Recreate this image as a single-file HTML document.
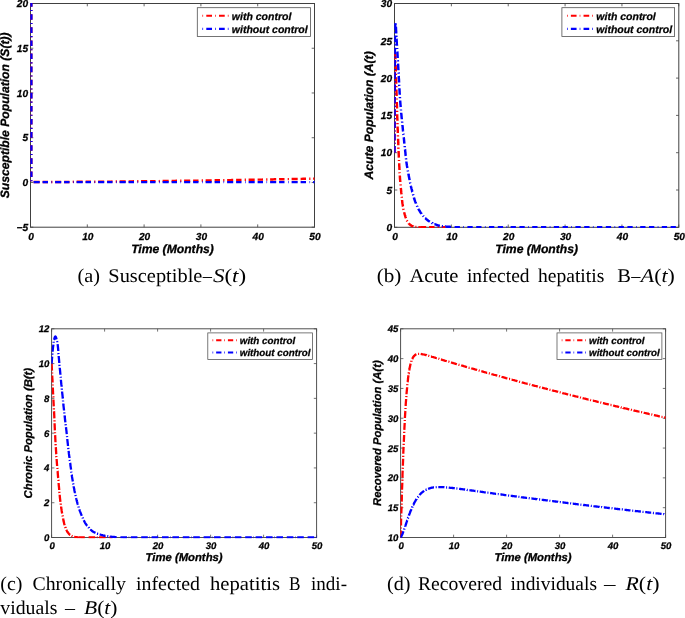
<!DOCTYPE html>
<html><head><meta charset="utf-8"><title>Figure</title>
<style>html,body{margin:0;padding:0;background:#fff}svg{display:block;will-change:transform}text{fill:#000;text-rendering:geometricPrecision}</style></head>
<body><svg width="685" height="618" viewBox="0 0 685 618">
<clipPath id="c34"><rect x="30.25" y="3.0" width="284.75" height="224.89999999999998"/></clipPath>
<rect x="30.5" y="3.5" width="284.0" height="223.7" fill="#fff" stroke="none"/>
<path d="M30.50 227.2 v-2.8 M30.50 3.5 v2.8 M87.30 227.2 v-2.8 M87.30 3.5 v2.8 M144.10 227.2 v-2.8 M144.10 3.5 v2.8 M200.90 227.2 v-2.8 M200.90 3.5 v2.8 M257.70 227.2 v-2.8 M257.70 3.5 v2.8 M314.50 227.2 v-2.8 M314.50 3.5 v2.8 M30.5 227.20 h2.8 M314.5 227.20 h-2.8 M30.5 182.46 h2.8 M314.5 182.46 h-2.8 M30.5 137.72 h2.8 M314.5 137.72 h-2.8 M30.5 92.98 h2.8 M314.5 92.98 h-2.8 M30.5 48.24 h2.8 M314.5 48.24 h-2.8 M30.5 3.50 h2.8 M314.5 3.50 h-2.8" stroke="#404040" stroke-width="0.8" fill="none"/>
<rect x="30.5" y="3.5" width="284.0" height="223.7" fill="none" stroke="#404040" stroke-width="1.0"/>
<path clip-path="url(#c34)" d="M31.3 1.1 L31.3 6.7 M31.3 9.9 L31.3 11.0 M31.3 14.2 L31.3 19.8 M31.3 23.0 L31.3 24.1 M31.3 27.3 L31.3 32.9 M31.3 36.1 L31.3 37.2 M31.3 40.4 L31.3 46.0 M31.3 49.2 L31.3 50.3 M31.3 53.5 L31.3 59.1 M31.3 62.3 L31.3 63.4 M31.3 66.6 L31.3 72.2 M31.3 75.4 L31.3 76.5 M31.3 79.7 L31.3 85.3 M31.3 88.5 L31.3 89.6 M31.3 92.8 L31.3 98.4 M31.3 101.6 L31.3 102.7 M31.3 105.9 L31.3 111.5 M31.3 114.7 L31.3 115.8 M31.3 119.0 L31.3 124.6 M31.3 127.8 L31.3 128.9 M31.3 132.1 L31.3 137.7 M31.3 140.9 L31.3 142.0 M31.3 145.2 L31.3 150.8 M31.3 154.0 L31.3 155.1 M31.3 158.3 L31.3 163.9 M31.3 167.1 L31.3 168.2 M31.3 171.4 L31.3 177.0 M31.3 180.2 L31.3 181.3" fill="none" stroke="#ff0000" stroke-width="2.45" stroke-linejoin="round"/>
<path clip-path="url(#c34)" d="M33.6 182.0 L34.1 182.0 L35.6 182.0 L37.0 182.0 L38.4 182.0 L39.7 182.0 M42.6 182.0 L42.7 182.0 L44.1 182.0 L45.5 182.0 L46.9 182.0 L48.0 182.0 M51.2 182.0 L52.4 182.0 M55.1 181.9 L55.5 181.9 L56.9 181.9 L58.3 181.9 L59.8 181.9 L61.2 181.9 L61.2 181.9 M64.1 181.9 L65.5 181.9 L66.9 181.9 L68.3 181.9 L69.5 181.9 M72.7 181.9 L73.9 181.8 M76.6 181.8 L76.8 181.8 L78.3 181.8 L79.7 181.8 L81.1 181.8 L82.5 181.8 L82.7 181.8 M85.6 181.8 L86.8 181.8 L88.2 181.7 L89.6 181.7 L91.0 181.7 M94.2 181.7 L95.3 181.7 L95.4 181.7 M98.1 181.7 L98.2 181.7 L99.6 181.7 L101.0 181.6 L102.5 181.6 L103.9 181.6 L104.2 181.6 M107.1 181.6 L108.1 181.6 L109.6 181.6 L111.0 181.6 L112.4 181.5 L112.5 181.5 M115.7 181.5 L116.7 181.5 L116.9 181.5 M119.6 181.5 L121.0 181.5 L122.4 181.5 L123.8 181.4 L125.2 181.4 L125.7 181.4 M128.6 181.4 L129.5 181.4 L130.9 181.4 L132.3 181.4 L133.8 181.3 L134.0 181.3 M137.2 181.3 L138.0 181.3 L138.4 181.3 M141.1 181.3 L142.3 181.2 L143.7 181.2 L145.1 181.2 L146.6 181.2 L147.2 181.2 M150.1 181.2 L150.8 181.2 L152.3 181.1 L153.7 181.1 L155.1 181.1 L155.5 181.1 M158.7 181.1 L159.4 181.1 L159.9 181.0 M162.6 181.0 L163.6 181.0 L165.1 181.0 L166.5 181.0 L167.9 180.9 L168.7 180.9 M171.6 180.9 L172.2 180.9 L173.6 180.9 L175.0 180.9 L176.5 180.8 L177.0 180.8 M180.2 180.8 L180.7 180.8 L181.4 180.8 M184.1 180.7 L185.0 180.7 L186.4 180.7 L187.8 180.7 L189.3 180.7 L190.2 180.7 M193.1 180.6 L193.5 180.6 L195.0 180.6 L196.4 180.6 L197.8 180.6 L198.5 180.5 M201.7 180.5 L202.1 180.5 L202.9 180.5 M205.6 180.4 L206.3 180.4 L207.8 180.4 L209.2 180.4 L210.6 180.4 L211.7 180.4 M214.6 180.3 L214.9 180.3 L216.3 180.3 L217.7 180.3 L219.1 180.2 L220.0 180.2 M223.2 180.2 L223.4 180.2 L224.4 180.2 M227.1 180.1 L227.7 180.1 L229.1 180.1 L230.5 180.1 L232.0 180.0 L233.2 180.0 M236.1 180.0 L236.2 180.0 L237.7 180.0 L239.1 179.9 L240.5 179.9 L241.5 179.9 M244.7 179.8 L244.8 179.8 L245.9 179.8 M248.6 179.8 L249.0 179.8 L250.5 179.8 L251.9 179.7 L253.3 179.7 L254.7 179.7 L254.7 179.7 M257.6 179.6 L259.0 179.6 L260.4 179.6 L261.8 179.6 L263.0 179.5 M266.2 179.5 L267.4 179.5 M270.1 179.4 L270.4 179.4 L271.8 179.4 L273.2 179.4 L274.7 179.3 L276.1 179.3 L276.2 179.3 M279.1 179.3 L280.3 179.2 L281.8 179.2 L283.2 179.2 L284.5 179.2 M287.7 179.1 L288.9 179.1 L288.9 179.1 M291.6 179.0 L291.7 179.0 L293.2 179.0 L294.6 179.0 L296.0 179.0 L297.4 178.9 L297.7 178.9 M300.6 178.9 L301.7 178.9 L303.1 178.8 L304.5 178.8 L306.0 178.8 L306.0 178.8 M309.2 178.7 L310.2 178.7 L310.4 178.7 M313.1 178.6 L314.5 178.6" fill="none" stroke="#ff0000" stroke-width="2.45" stroke-linejoin="round"/>
<path clip-path="url(#c34)" d="M31.3 1.1 L31.3 6.7 M31.3 9.9 L31.3 11.0 M31.3 14.2 L31.3 19.8 M31.3 23.0 L31.3 24.1 M31.3 27.3 L31.3 32.9 M31.3 36.1 L31.3 37.2 M31.3 40.4 L31.3 46.0 M31.3 49.2 L31.3 50.3 M31.3 53.5 L31.3 59.1 M31.3 62.3 L31.3 63.4 M31.3 66.6 L31.3 72.2 M31.3 75.4 L31.3 76.5 M31.3 79.7 L31.3 85.3 M31.3 88.5 L31.3 89.6 M31.3 92.8 L31.3 98.4 M31.3 101.6 L31.3 102.7 M31.3 105.9 L31.3 111.5 M31.3 114.7 L31.3 115.8 M31.3 119.0 L31.3 124.6 M31.3 127.8 L31.3 128.9 M31.3 132.1 L31.3 137.7 M31.3 140.9 L31.3 142.0 M31.3 145.2 L31.3 150.8 M31.3 154.0 L31.3 155.1 M31.3 158.3 L31.3 163.9 M31.3 167.1 L31.3 168.2 M31.3 171.4 L31.3 177.0 M31.3 180.2 L31.3 181.3" fill="none" stroke="#0000ff" stroke-width="2.45" stroke-linejoin="round"/>
<path clip-path="url(#c34)" d="M33.6 182.1 L34.1 182.1 L35.6 182.1 L37.0 182.1 L38.4 182.1 L39.7 182.1 M42.6 182.1 L42.7 182.1 L44.1 182.1 L45.5 182.1 L46.9 182.1 L48.0 182.1 M51.5 182.1 L52.1 182.1 M55.1 182.1 L55.5 182.1 L56.9 182.1 L58.3 182.1 L59.8 182.1 L61.2 182.1 L61.2 182.1 M64.1 182.1 L65.5 182.1 L66.9 182.1 L68.3 182.1 L69.5 182.1 M73.0 182.1 L73.6 182.1 M76.6 182.1 L76.8 182.1 L78.3 182.1 L79.7 182.1 L81.1 182.1 L82.5 182.1 L82.7 182.1 M85.6 182.1 L86.8 182.1 L88.2 182.1 L89.6 182.1 L91.0 182.1 M94.5 182.1 L95.1 182.1 M98.1 182.1 L98.2 182.1 L99.6 182.1 L101.0 182.1 L102.5 182.1 L103.9 182.1 L104.2 182.1 M107.1 182.1 L108.1 182.1 L109.6 182.1 L111.0 182.1 L112.4 182.1 L112.5 182.1 M116.0 182.1 L116.6 182.1 M119.6 182.1 L121.0 182.1 L122.4 182.1 L123.8 182.1 L125.2 182.1 L125.7 182.1 M128.6 182.1 L129.5 182.1 L130.9 182.1 L132.3 182.1 L133.8 182.1 L134.0 182.1 M137.5 182.1 L138.0 182.1 L138.1 182.1 M141.1 182.1 L142.3 182.1 L143.7 182.1 L145.1 182.1 L146.6 182.1 L147.2 182.1 M150.1 182.1 L150.8 182.1 L152.3 182.1 L153.7 182.1 L155.1 182.1 L155.5 182.1 M159.0 182.1 L159.4 182.1 L159.6 182.1 M162.6 182.1 L163.6 182.1 L165.1 182.1 L166.5 182.1 L167.9 182.1 L168.7 182.1 M171.6 182.1 L172.2 182.1 L173.6 182.1 L175.0 182.1 L176.5 182.1 L177.0 182.1 M180.5 182.1 L180.7 182.1 L181.1 182.1 M184.1 182.1 L185.0 182.1 L186.4 182.1 L187.8 182.1 L189.3 182.1 L190.2 182.1 M193.1 182.1 L193.5 182.1 L195.0 182.1 L196.4 182.1 L197.8 182.1 L198.5 182.1 M202.0 182.1 L202.1 182.1 L202.6 182.1 M205.6 182.1 L206.3 182.1 L207.8 182.1 L209.2 182.1 L210.6 182.1 L211.7 182.1 M214.6 182.1 L214.9 182.1 L216.3 182.1 L217.7 182.1 L219.1 182.1 L220.0 182.1 M223.5 182.1 L224.1 182.1 M227.1 182.1 L227.7 182.1 L229.1 182.1 L230.5 182.1 L232.0 182.1 L233.2 182.1 M236.1 182.1 L236.2 182.1 L237.7 182.1 L239.1 182.1 L240.5 182.1 L241.5 182.1 M245.0 182.1 L245.6 182.1 M248.6 182.1 L249.0 182.1 L250.5 182.1 L251.9 182.1 L253.3 182.1 L254.7 182.1 L254.7 182.1 M257.6 182.1 L259.0 182.1 L260.4 182.1 L261.8 182.1 L263.0 182.1 M266.5 182.1 L267.1 182.1 M270.1 182.1 L270.4 182.1 L271.8 182.1 L273.2 182.1 L274.7 182.1 L276.1 182.1 L276.2 182.1 M279.1 182.1 L280.3 182.1 L281.8 182.1 L283.2 182.1 L284.5 182.1 M288.0 182.1 L288.6 182.1 M291.6 182.1 L291.7 182.1 L293.2 182.1 L294.6 182.1 L296.0 182.1 L297.4 182.1 L297.7 182.1 M300.6 182.1 L301.7 182.1 L303.1 182.1 L304.5 182.1 L306.0 182.1 L306.0 182.1 M309.5 182.1 L310.1 182.1 M313.1 182.1 L314.5 182.1" fill="none" stroke="#0000ff" stroke-width="2.45" stroke-linejoin="round"/>
<text x="31.00" y="240.00" text-anchor="middle" style="font-family:'Liberation Sans', sans-serif;font-weight:bold;font-style:italic;font-size:10.2px;stroke:#000;stroke-width:0.25px">0</text>
<text x="87.80" y="240.00" text-anchor="middle" style="font-family:'Liberation Sans', sans-serif;font-weight:bold;font-style:italic;font-size:10.2px;stroke:#000;stroke-width:0.25px">10</text>
<text x="144.60" y="240.00" text-anchor="middle" style="font-family:'Liberation Sans', sans-serif;font-weight:bold;font-style:italic;font-size:10.2px;stroke:#000;stroke-width:0.25px">20</text>
<text x="201.40" y="240.00" text-anchor="middle" style="font-family:'Liberation Sans', sans-serif;font-weight:bold;font-style:italic;font-size:10.2px;stroke:#000;stroke-width:0.25px">30</text>
<text x="258.20" y="240.00" text-anchor="middle" style="font-family:'Liberation Sans', sans-serif;font-weight:bold;font-style:italic;font-size:10.2px;stroke:#000;stroke-width:0.25px">40</text>
<text x="315.00" y="240.00" text-anchor="middle" style="font-family:'Liberation Sans', sans-serif;font-weight:bold;font-style:italic;font-size:10.2px;stroke:#000;stroke-width:0.25px">50</text>
<text x="28.20" y="230.92" text-anchor="end" style="font-family:'Liberation Sans', sans-serif;font-weight:bold;font-style:italic;font-size:10.2px;stroke:#000;stroke-width:0.25px">−5</text>
<text x="28.20" y="186.18" text-anchor="end" style="font-family:'Liberation Sans', sans-serif;font-weight:bold;font-style:italic;font-size:10.2px;stroke:#000;stroke-width:0.25px">0</text>
<text x="28.20" y="141.44" text-anchor="end" style="font-family:'Liberation Sans', sans-serif;font-weight:bold;font-style:italic;font-size:10.2px;stroke:#000;stroke-width:0.25px">5</text>
<text x="28.20" y="96.70" text-anchor="end" style="font-family:'Liberation Sans', sans-serif;font-weight:bold;font-style:italic;font-size:10.2px;stroke:#000;stroke-width:0.25px">10</text>
<text x="28.20" y="51.96" text-anchor="end" style="font-family:'Liberation Sans', sans-serif;font-weight:bold;font-style:italic;font-size:10.2px;stroke:#000;stroke-width:0.25px">15</text>
<text x="28.20" y="7.22" text-anchor="end" style="font-family:'Liberation Sans', sans-serif;font-weight:bold;font-style:italic;font-size:10.2px;stroke:#000;stroke-width:0.25px">20</text>
<text x="172.50" y="252.8" text-anchor="middle" style="font-family:'Liberation Sans', sans-serif;font-weight:bold;font-style:italic;font-size:12.15px;stroke:#000;stroke-width:0.3px">Time (Months)</text>
<text transform="translate(9.3 115.35) rotate(-90)" text-anchor="middle" style="font-family:'Liberation Sans', sans-serif;font-weight:bold;font-style:italic;font-size:12.15px;stroke:#000;stroke-width:0.3px">Susceptible Population (S(t))</text>
<rect x="197.3" y="7.7" width="113.09999999999997" height="28.7" fill="#fff" stroke="#505050" stroke-width="0.8"/>
<path d="M202.40 15.71 H229.33" stroke="#ff0000" stroke-width="2.10" stroke-dasharray="0.70 3.20 5.71 3.10" fill="none"/>
<text x="231.83" y="19.54" style="font-family:'Liberation Sans', sans-serif;font-weight:bold;font-style:italic;font-size:10.5px;stroke:#000;stroke-width:0.25px">with control</text>
<path d="M202.40 28.92 H229.33" stroke="#0000ff" stroke-width="2.10" stroke-dasharray="0.70 3.20 5.71 3.10" fill="none"/>
<text x="231.83" y="32.75" style="font-family:'Liberation Sans', sans-serif;font-weight:bold;font-style:italic;font-size:10.5px;stroke:#000;stroke-width:0.25px">without control</text>
<clipPath id="c398"><rect x="394.25" y="3.0" width="285.04999999999995" height="225.0"/></clipPath>
<rect x="394.5" y="3.5" width="284.29999999999995" height="223.8" fill="#fff" stroke="none"/>
<path d="M394.50 227.3 v-2.8 M394.50 3.5 v2.8 M451.36 227.3 v-2.8 M451.36 3.5 v2.8 M508.22 227.3 v-2.8 M508.22 3.5 v2.8 M565.08 227.3 v-2.8 M565.08 3.5 v2.8 M621.94 227.3 v-2.8 M621.94 3.5 v2.8 M678.80 227.3 v-2.8 M678.80 3.5 v2.8 M394.5 227.30 h2.8 M678.8 227.30 h-2.8 M394.5 190.00 h2.8 M678.8 190.00 h-2.8 M394.5 152.70 h2.8 M678.8 152.70 h-2.8 M394.5 115.40 h2.8 M678.8 115.40 h-2.8 M394.5 78.10 h2.8 M678.8 78.10 h-2.8 M394.5 40.80 h2.8 M678.8 40.80 h-2.8 M394.5 3.50 h2.8 M678.8 3.50 h-2.8" stroke="#404040" stroke-width="0.8" fill="none"/>
<rect x="394.5" y="3.5" width="284.29999999999995" height="223.8" fill="none" stroke="#404040" stroke-width="1.0"/>
<path clip-path="url(#c398)" d="M394.5 152.7 L394.5 146.1 M394.5 143.8 L394.5 142.7 M394.5 140.4 L394.5 133.8 M394.6 131.5 L394.6 130.4 M394.6 128.1 L394.6 121.5 M394.6 119.2 L394.6 118.1 M394.6 115.8 L394.6 109.2 M394.6 106.9 L394.6 105.8 M394.6 103.5 L394.7 96.9 M394.7 94.6 L394.7 93.5 M394.7 91.2 L394.7 84.6 M394.7 82.3 L394.7 81.2 M394.7 78.9 L394.8 72.3 M394.8 70.0 L394.8 68.9 M394.8 66.6 L394.8 62.9 L394.9 60.0 M394.9 57.7 L395.0 56.6 M395.0 54.3 L395.1 53.8 L395.1 53.5 L395.2 53.9 L395.2 54.8 L395.3 56.0 L395.4 57.4 L395.4 58.8 L395.4 59.2 M395.5 61.5 L395.5 61.9 L395.6 62.7 M395.6 65.0 L395.6 65.6 L395.7 67.5 L395.8 69.3 L395.8 71.2 L395.8 71.5 M395.9 73.8 L395.9 74.8 L395.9 75.0 M396.0 77.3 L396.0 78.6 L396.1 80.4 L396.2 82.3 L396.2 83.8 M396.3 86.1 L396.3 87.3 M396.4 89.6 L396.4 90.9 L396.5 92.5 L396.6 94.2 L396.6 95.9 L396.6 96.1 M396.7 98.4 L396.7 99.3 L396.7 99.6 M396.8 101.9 L396.8 103.1 L396.9 105.1 L397.0 107.1 L397.0 108.4 M397.1 110.7 L397.1 111.0 L397.1 111.9 M397.2 114.2 L397.2 114.8 L397.2 116.6 L397.3 118.3 L397.4 119.9 L397.4 120.7 M397.5 123.0 L397.5 123.2 L397.5 124.2 M397.6 126.5 L397.6 127.9 L397.7 129.4 L397.8 130.9 L397.8 132.4 L397.8 133.0 M397.9 135.3 L397.9 135.4 L398.0 136.5 M398.1 138.8 L398.1 139.6 L398.2 141.0 L398.2 142.4 L398.3 143.8 L398.3 145.2 L398.3 145.3 M398.4 147.6 L398.4 147.9 L398.5 148.8 M398.6 151.0 L398.6 151.8 L398.7 153.1 L398.7 154.4 L398.8 155.6 L398.8 156.9 L398.9 157.6 M399.0 159.9 L399.0 160.5 L399.0 161.0 M399.2 163.3 L399.2 164.0 L399.2 165.2 L399.3 166.3 L399.4 167.5 L399.4 168.6 L399.5 169.7 L399.5 169.9 M399.6 172.2 L399.6 172.9 L399.7 173.3 M399.8 175.6 L399.8 175.7 L399.9 176.6 L399.9 177.4 L400.0 178.2 L400.0 179.0 L400.1 179.7 L400.2 180.4 L400.2 181.1 L400.3 181.8 L400.3 182.1 M400.5 184.4 L400.6 185.1 L400.6 185.6 M400.8 187.9 L400.8 188.0 L400.9 188.6 L401.0 189.2 L401.0 189.8 L401.1 190.3 L401.1 190.9 L401.2 191.5 L401.2 192.1 L401.3 192.7 L401.4 193.2 L401.4 193.8 L401.5 194.4 M401.7 196.7 L401.7 196.7 L401.8 197.2 L401.8 197.8 L401.8 197.8 M402.1 200.1 L402.1 200.4 L402.2 201.4 L402.3 202.3 L402.4 203.2 L402.6 204.1 L402.7 204.8 L402.8 205.5 L402.9 206.2 L403.0 206.6 M403.4 208.8 L403.4 209.0 L403.5 209.3 L403.5 209.6 L403.6 209.9 L403.6 209.9 M404.1 212.2 L404.1 212.2 L404.4 213.3 L404.7 214.4 L405.0 215.3 L405.2 216.2 L405.5 217.1 L405.8 217.9 L406.0 218.3 M406.8 220.4 L406.8 220.4 L407.0 220.8 L407.2 221.2 L407.3 221.4 M408.6 223.2 L408.7 223.4 L409.5 224.2 L410.2 224.8 L411.0 225.4 L411.8 225.8 L412.5 226.1 L413.3 226.4 L413.4 226.5 M415.4 226.9 L415.6 226.9 L415.8 226.9 L416.0 227.0 L416.1 227.0 L416.3 227.0 L416.4 227.0 M418.4 227.2 L418.4 227.2 L418.6 227.2 L418.8 227.2 L419.0 227.2 L419.2 227.2 L419.4 227.2 L419.6 227.2 L419.8 227.2 L419.9 227.2" fill="none" stroke="#ff0000" stroke-width="2.45" stroke-linejoin="round"/>
<path clip-path="url(#c398)" d="M420.1 227.2 L420.3 227.2 L421.3 227.2 L422.2 227.2 L423.2 227.2 L424.1 227.2 L425.1 227.2 L426.0 227.2 L426.2 227.2 M429.1 227.2 L429.3 227.2 L430.0 227.2 L430.8 227.2 L431.5 227.2 L432.3 227.2 L433.1 227.2 L433.8 227.2 L434.5 227.2 M437.7 227.2 L437.8 227.2 L438.0 227.2 L438.2 227.2 L438.4 227.2 L438.6 227.2 L438.8 227.2 L438.9 227.2 M441.6 227.2 L441.8 227.2 L442.4 227.2 L443.0 227.2 L443.5 227.2 L444.1 227.2 L444.7 227.2 L445.2 227.2 L445.6 227.2" fill="none" stroke="#ff0000" stroke-width="2.45" stroke-linejoin="round"/>
<path clip-path="url(#c398)" d="M394.5 152.7 L394.5 146.1 M394.5 143.8 L394.5 142.7 M394.5 140.4 L394.5 133.8 M394.5 131.5 L394.5 130.4 M394.6 128.1 L394.6 125.9 L394.6 121.5 M394.6 119.2 L394.6 118.1 M394.6 115.8 L394.6 109.2 M394.6 106.9 L394.6 105.8 M394.6 103.5 L394.6 102.6 L394.6 96.9 M394.6 94.6 L394.6 93.5 M394.7 91.2 L394.7 85.4 L394.7 84.6 M394.7 82.3 L394.7 81.2 M394.7 78.9 L394.7 72.9 L394.7 72.3 M394.7 70.0 L394.7 68.9 M394.8 66.6 L394.8 62.0 L394.8 60.0 M394.8 57.7 L394.8 56.6 M394.8 54.3 L394.8 53.0 L394.9 47.7 M394.9 45.4 L394.9 44.3 M394.9 42.0 L395.0 40.6 L395.0 36.5 L395.0 35.4 M395.1 33.1 L395.1 32.6 L395.1 32.0 M395.1 29.7 L395.1 29.1 L395.2 26.2 L395.2 24.0 L395.3 23.1 M395.6 23.4 L395.6 23.5 L395.7 24.0 L395.8 24.4 L395.8 24.6 M395.9 26.9 L396.0 28.0 L396.0 29.2 L396.1 30.5 L396.2 31.8 L396.2 33.1 L396.2 33.4 M396.3 35.7 L396.4 36.5 L396.4 36.9 M396.5 39.2 L396.6 39.3 L396.6 40.2 L396.7 41.1 L396.7 42.0 L396.8 42.9 L396.8 43.7 L396.9 44.6 L397.0 45.5 L397.0 45.7 M397.1 48.0 L397.1 48.1 L397.2 49.0 L397.2 49.1 M397.3 51.4 L397.4 51.9 L397.4 52.8 L397.5 53.8 L397.5 54.8 L397.6 55.7 L397.6 56.7 L397.7 57.7 L397.7 58.0 M397.8 60.3 L397.9 60.7 L397.9 61.4 M398.0 63.7 L398.1 64.7 L398.2 65.7 L398.2 66.7 L398.3 67.7 L398.3 68.7 L398.4 69.7 L398.4 70.2 M398.5 72.5 L398.6 72.7 L398.6 73.7 M398.7 76.0 L398.8 76.8 L398.8 77.8 L398.9 78.9 L399.0 79.9 L399.0 81.0 L399.1 82.0 L399.1 82.5 M399.2 84.8 L399.2 85.3 L399.3 86.0 M399.4 88.3 L399.4 88.4 L399.5 89.5 L399.5 90.5 L399.6 91.5 L399.6 92.5 L399.7 93.5 L399.8 94.5 L399.8 94.8 M399.9 97.1 L399.9 97.2 L400.0 98.1 L400.0 98.2 M400.2 100.5 L400.2 101.3 L400.3 102.0 L400.3 102.8 L400.4 103.5 L400.4 104.2 L400.5 104.9 L400.6 105.6 L400.6 106.3 L400.7 107.0 L400.7 107.1 M400.9 109.4 L400.9 109.6 L401.0 110.2 L401.0 110.5 M401.2 112.8 L401.2 113.3 L401.3 113.9 L401.4 114.5 L401.4 115.1 L401.5 115.7 L401.5 116.3 L401.6 116.8 L401.6 117.4 L401.7 118.0 L401.8 118.6 L401.8 119.1 L401.8 119.3 M402.1 121.6 L402.1 121.9 L402.2 122.5 L402.2 122.7 M402.4 125.0 L402.4 125.3 L402.6 126.4 L402.7 127.6 L402.8 128.7 L402.9 129.8 L403.0 130.9 L403.1 131.5 M403.3 133.8 L403.4 134.0 L403.4 134.6 L403.5 134.9 M403.7 137.2 L403.8 137.7 L403.9 138.7 L404.0 139.7 L404.1 140.7 L404.2 141.8 L404.3 142.8 L404.4 143.7 M404.7 146.0 L404.7 146.4 L404.8 147.0 L404.8 147.2 M405.0 149.4 L405.1 149.6 L405.1 150.2 L405.2 150.8 L405.2 151.4 L405.3 151.9 L405.4 152.5 L405.4 153.1 L405.5 153.7 L405.5 154.3 L405.6 154.8 L405.6 155.4 L405.7 155.9 M405.9 158.2 L406.1 159.3 L406.1 159.4 M406.4 161.6 L406.4 162.1 L406.6 163.4 L406.8 164.7 L407.0 166.0 L407.2 167.1 L407.4 168.1 M407.8 170.4 L407.8 170.5 L408.0 171.5 M408.4 173.7 L408.5 174.6 L408.7 175.6 L408.9 176.6 L409.1 177.6 L409.3 178.5 L409.5 179.5 L409.6 180.1 M410.1 182.4 L410.2 183.2 L410.3 183.5 M410.8 185.7 L410.8 185.7 L411.0 186.6 L411.2 187.4 L411.4 188.2 L411.6 189.0 L411.8 189.7 L412.0 190.4 L412.1 191.2 L412.3 191.9 L412.4 192.0 M413.0 194.2 L413.1 194.7 L413.3 195.3 M413.9 197.5 L414.0 198.0 L414.2 198.6 L414.4 199.3 L414.6 199.8 L414.8 200.4 L415.0 201.0 L415.2 201.5 L415.4 202.1 L415.6 202.6 L415.8 203.0 L416.0 203.5 L416.0 203.6 M416.9 205.7 L416.9 205.7 L417.1 206.2 L417.3 206.6 L417.3 206.7 M418.3 208.7 L418.4 208.9 L418.8 209.6 L419.2 210.2 L419.6 210.9 L419.9 211.5 L420.3 212.1 L420.7 212.7 L421.1 213.2 L421.5 213.8 L421.6 214.0 M423.0 215.7 L423.0 215.7 L423.2 216.0 L423.4 216.2 L423.6 216.4 L423.7 216.5 M425.1 218.1 L425.3 218.2 L426.0 218.9 L426.8 219.6 L427.6 220.2 L428.3 220.8 L429.1 221.3 L429.8 221.8 M431.6 222.8 L431.7 222.9 L431.9 223.0 L432.1 223.1 L432.3 223.1 L432.5 223.2 L432.5 223.3 M434.4 224.1 L434.6 224.1 L435.3 224.4 L436.1 224.7 L436.9 225.0 L437.6 225.2 L438.4 225.4 L439.2 225.6 L439.9 225.7 M441.9 226.1 L442.0 226.1 L442.2 226.1 L442.4 226.1 L442.6 226.2 L442.8 226.2 L442.9 226.2 M444.9 226.5 L445.0 226.5 L445.2 226.5 L445.4 226.5 L445.6 226.6" fill="none" stroke="#0000ff" stroke-width="2.45" stroke-linejoin="round"/>
<path clip-path="url(#c398)" d="M445.8 226.6 L446.0 226.6 L446.8 226.7 L447.5 226.7 L448.3 226.8 L449.0 226.8 L449.8 226.8 L450.6 226.9 L451.1 226.9 M454.6 227.1 L454.7 227.1 L455.5 227.1 L456.3 227.1 L457.0 227.1 L457.8 227.2 L458.5 227.2 L459.3 227.2 L459.9 227.2 M463.3 227.2 L463.8 227.2 L464.0 227.2 M467.4 227.2 L468.2 227.2 L469.2 227.2 L470.3 227.2 L471.4 227.2 L472.5 227.2 L472.7 227.2 M476.2 227.2 L476.8 227.2 L477.9 227.2 L479.0 227.2 L480.1 227.2 L481.2 227.2 L481.5 227.2 M484.9 227.2 L485.5 227.2 L485.6 227.2 M489.0 227.2 L489.9 227.2 L491.0 227.2 L492.0 227.3 L493.1 227.3 L494.2 227.3 L494.3 227.3 M497.8 227.3 L498.6 227.3 L499.6 227.3 L500.7 227.3 L501.8 227.3 L502.9 227.3 L503.1 227.3 M506.5 227.3 L507.2 227.3 M510.6 227.3 L511.6 227.3 L512.7 227.3 L513.8 227.3 L514.8 227.3 L515.9 227.3 M519.4 227.3 L520.3 227.3 L521.4 227.3 L522.4 227.3 L523.5 227.3 L524.6 227.3 L524.7 227.3 M528.1 227.3 L528.8 227.3 M532.2 227.3 L532.2 227.3 L533.3 227.3 L534.4 227.3 L535.5 227.3 L536.6 227.3 L537.5 227.3 M541.0 227.3 L542.0 227.3 L543.1 227.3 L544.2 227.3 L545.3 227.3 L546.3 227.3 M549.7 227.3 L550.4 227.3 M553.8 227.3 L553.9 227.3 L555.0 227.3 L556.1 227.3 L557.2 227.3 L558.3 227.3 L559.1 227.3 M562.6 227.3 L562.6 227.3 L563.7 227.3 L564.8 227.3 L565.9 227.3 L567.0 227.3 L567.9 227.3 M571.3 227.3 L571.3 227.3 L572.0 227.3 M575.4 227.3 L575.7 227.3 L576.7 227.3 L577.8 227.3 L578.9 227.3 L580.0 227.3 L580.7 227.3 M584.2 227.3 L584.3 227.3 L585.4 227.3 L586.5 227.3 L587.6 227.3 L588.7 227.3 L589.5 227.3 M592.9 227.3 L593.0 227.3 L593.6 227.3 M597.0 227.3 L597.4 227.3 L598.5 227.3 L599.5 227.3 L600.6 227.3 L601.7 227.3 L602.3 227.3 M605.8 227.3 L606.1 227.3 L607.1 227.3 L608.2 227.3 L609.3 227.3 L610.4 227.3 L611.1 227.3 M614.5 227.3 L614.7 227.3 L615.2 227.3 M618.6 227.3 L619.1 227.3 L620.2 227.3 L621.3 227.3 L622.3 227.3 L623.4 227.3 L623.9 227.3 M627.4 227.3 L627.8 227.3 L628.9 227.3 L629.9 227.3 L631.0 227.3 L632.1 227.3 L632.7 227.3 M636.1 227.3 L636.5 227.3 L636.8 227.3 M640.2 227.3 L640.8 227.3 L641.9 227.3 L643.0 227.3 L644.1 227.3 L645.1 227.3 L645.5 227.3 M649.0 227.3 L649.5 227.3 L650.6 227.3 L651.7 227.3 L652.7 227.3 L653.8 227.3 L654.3 227.3 M657.7 227.3 L658.2 227.3 L658.4 227.3 M661.8 227.3 L662.5 227.3 L663.6 227.3 L664.7 227.3 L665.8 227.3 L666.9 227.3 L667.1 227.3 M670.6 227.3 L671.2 227.3 L672.3 227.3 L673.4 227.3 L674.5 227.3 L675.5 227.3 L675.9 227.3" fill="none" stroke="#0000ff" stroke-width="2.45" stroke-linejoin="round"/>
<text x="395.00" y="240.10" text-anchor="middle" style="font-family:'Liberation Sans', sans-serif;font-weight:bold;font-style:italic;font-size:10.2px;stroke:#000;stroke-width:0.25px">0</text>
<text x="451.86" y="240.10" text-anchor="middle" style="font-family:'Liberation Sans', sans-serif;font-weight:bold;font-style:italic;font-size:10.2px;stroke:#000;stroke-width:0.25px">10</text>
<text x="508.72" y="240.10" text-anchor="middle" style="font-family:'Liberation Sans', sans-serif;font-weight:bold;font-style:italic;font-size:10.2px;stroke:#000;stroke-width:0.25px">20</text>
<text x="565.58" y="240.10" text-anchor="middle" style="font-family:'Liberation Sans', sans-serif;font-weight:bold;font-style:italic;font-size:10.2px;stroke:#000;stroke-width:0.25px">30</text>
<text x="622.44" y="240.10" text-anchor="middle" style="font-family:'Liberation Sans', sans-serif;font-weight:bold;font-style:italic;font-size:10.2px;stroke:#000;stroke-width:0.25px">40</text>
<text x="679.30" y="240.10" text-anchor="middle" style="font-family:'Liberation Sans', sans-serif;font-weight:bold;font-style:italic;font-size:10.2px;stroke:#000;stroke-width:0.25px">50</text>
<text x="392.20" y="231.02" text-anchor="end" style="font-family:'Liberation Sans', sans-serif;font-weight:bold;font-style:italic;font-size:10.2px;stroke:#000;stroke-width:0.25px">0</text>
<text x="392.20" y="193.72" text-anchor="end" style="font-family:'Liberation Sans', sans-serif;font-weight:bold;font-style:italic;font-size:10.2px;stroke:#000;stroke-width:0.25px">5</text>
<text x="392.20" y="156.42" text-anchor="end" style="font-family:'Liberation Sans', sans-serif;font-weight:bold;font-style:italic;font-size:10.2px;stroke:#000;stroke-width:0.25px">10</text>
<text x="392.20" y="119.12" text-anchor="end" style="font-family:'Liberation Sans', sans-serif;font-weight:bold;font-style:italic;font-size:10.2px;stroke:#000;stroke-width:0.25px">15</text>
<text x="392.20" y="81.82" text-anchor="end" style="font-family:'Liberation Sans', sans-serif;font-weight:bold;font-style:italic;font-size:10.2px;stroke:#000;stroke-width:0.25px">20</text>
<text x="392.20" y="44.52" text-anchor="end" style="font-family:'Liberation Sans', sans-serif;font-weight:bold;font-style:italic;font-size:10.2px;stroke:#000;stroke-width:0.25px">25</text>
<text x="392.20" y="7.22" text-anchor="end" style="font-family:'Liberation Sans', sans-serif;font-weight:bold;font-style:italic;font-size:10.2px;stroke:#000;stroke-width:0.25px">30</text>
<text x="536.65" y="252.8" text-anchor="middle" style="font-family:'Liberation Sans', sans-serif;font-weight:bold;font-style:italic;font-size:12.15px;stroke:#000;stroke-width:0.3px">Time (Months)</text>
<text transform="translate(373.0 115.40) rotate(-90)" text-anchor="middle" style="font-family:'Liberation Sans', sans-serif;font-weight:bold;font-style:italic;font-size:12.15px;stroke:#000;stroke-width:0.3px">Acute Population (A(t)</text>
<rect x="561.9" y="7.7" width="112.70000000000005" height="28.7" fill="#fff" stroke="#505050" stroke-width="0.8"/>
<path d="M566.99 15.68 H593.82" stroke="#ff0000" stroke-width="2.09" stroke-dasharray="0.70 3.19 5.68 3.09" fill="none"/>
<text x="596.31" y="19.51" style="font-family:'Liberation Sans', sans-serif;font-weight:bold;font-style:italic;font-size:10.5px;stroke:#000;stroke-width:0.25px">with control</text>
<path d="M566.99 28.84 H593.82" stroke="#0000ff" stroke-width="2.09" stroke-dasharray="0.70 3.19 5.68 3.09" fill="none"/>
<text x="596.31" y="32.68" style="font-family:'Liberation Sans', sans-serif;font-weight:bold;font-style:italic;font-size:10.5px;stroke:#000;stroke-width:0.25px">without control</text>
<clipPath id="c380"><rect x="51.35" y="328.3" width="265.75" height="209.89999999999998"/></clipPath>
<rect x="51.6" y="328.8" width="265.0" height="208.7" fill="#fff" stroke="none"/>
<path d="M51.60 537.5 v-2.8 M51.60 328.8 v2.8 M104.60 537.5 v-2.8 M104.60 328.8 v2.8 M157.60 537.5 v-2.8 M157.60 328.8 v2.8 M210.60 537.5 v-2.8 M210.60 328.8 v2.8 M263.60 537.5 v-2.8 M263.60 328.8 v2.8 M316.60 537.5 v-2.8 M316.60 328.8 v2.8 M51.6 537.50 h2.8 M316.6 537.50 h-2.8 M51.6 502.72 h2.8 M316.6 502.72 h-2.8 M51.6 467.93 h2.8 M316.6 467.93 h-2.8 M51.6 433.15 h2.8 M316.6 433.15 h-2.8 M51.6 398.37 h2.8 M316.6 398.37 h-2.8 M51.6 363.58 h2.8 M316.6 363.58 h-2.8 M51.6 328.80 h2.8 M316.6 328.80 h-2.8" stroke="#484848" stroke-width="0.76" fill="none"/>
<rect x="51.6" y="328.8" width="265.0" height="208.7" fill="none" stroke="#484848" stroke-width="0.95"/>
<path clip-path="url(#c380)" d="M51.6 363.6 L51.7 364.6 L51.7 365.5 L51.8 366.5 L51.8 367.5 L51.9 368.5 L51.9 369.6 L52.0 370.6 L52.0 370.6 M52.1 372.5 L52.1 372.6 L52.1 373.6 M52.2 375.5 L52.2 375.8 L52.3 376.8 L52.3 377.9 L52.4 378.9 L52.5 380.0 L52.5 381.1 L52.6 382.2 L52.6 382.5 M52.7 384.4 L52.7 385.5 L52.7 385.6 M52.8 387.5 L52.8 387.8 L52.9 389.0 L52.9 390.1 L53.0 391.2 L53.0 392.4 L53.1 393.5 L53.1 394.5 M53.2 396.4 L53.3 396.8 L53.3 397.5 M53.4 399.4 L53.4 399.9 L53.5 400.9 L53.5 401.9 L53.6 402.9 L53.6 403.9 L53.7 404.9 L53.7 405.8 L53.8 406.4 M53.9 408.3 L53.9 408.8 L53.9 409.4 M54.0 411.3 L54.1 411.8 L54.1 412.8 L54.2 413.9 L54.2 414.9 L54.3 416.0 L54.3 417.2 L54.4 418.3 L54.4 418.3 M54.5 420.2 L54.5 420.7 L54.5 421.4 M54.6 423.3 L54.6 424.5 L54.7 425.7 L54.7 426.9 L54.8 428.2 L54.8 429.4 L54.9 430.3 M55.0 432.2 L55.0 432.8 L55.0 433.3 M55.1 435.2 L55.2 435.9 L55.2 436.9 L55.3 437.9 L55.3 438.9 L55.4 439.8 L55.4 440.8 L55.5 441.7 L55.5 442.2 M55.6 444.1 L55.6 444.5 L55.7 445.3 M55.8 447.2 L55.9 448.0 L55.9 448.8 L56.0 449.7 L56.0 450.5 L56.1 451.3 L56.1 452.2 L56.2 453.0 L56.2 453.8 L56.3 454.2 M56.4 456.0 L56.4 456.1 L56.4 456.9 L56.5 457.2 M56.6 459.1 L56.6 459.2 L56.7 459.9 L56.7 460.6 L56.8 461.3 L56.8 462.0 L56.9 462.7 L56.9 463.4 L57.0 464.1 L57.0 464.8 L57.1 465.4 L57.1 466.1 M57.3 468.0 L57.3 468.0 L57.4 468.7 L57.4 469.1 M57.5 471.0 L57.6 471.2 L57.7 472.4 L57.8 473.7 L57.9 474.9 L58.0 476.1 L58.1 477.3 L58.2 478.0 M58.3 479.9 L58.4 480.3 L58.4 480.9 L58.4 481.0 M58.6 482.9 L58.6 483.4 L58.7 484.0 L58.7 484.6 L58.8 485.2 L58.8 485.8 L58.9 486.4 L59.0 487.0 L59.0 487.6 L59.1 488.2 L59.1 488.9 L59.2 489.5 L59.2 489.9 M59.4 491.8 L59.4 491.8 L59.4 492.4 L59.5 492.9 M59.7 494.8 L59.7 495.2 L59.8 496.3 L59.9 497.3 L60.0 498.3 L60.1 499.2 L60.2 500.1 L60.3 501.0 L60.4 501.8 M60.7 503.6 L60.7 503.9 L60.8 504.3 L60.8 504.7 L60.8 504.8 M61.1 506.6 L61.1 506.7 L61.2 507.8 L61.4 508.9 L61.6 509.9 L61.7 510.9 L61.9 511.9 L62.0 512.9 L62.2 513.5 M62.5 515.4 L62.6 515.7 L62.7 516.5 M63.1 518.4 L63.1 518.6 L63.3 519.4 L63.4 520.3 L63.6 521.1 L63.8 521.9 L64.0 522.7 L64.1 523.4 L64.3 524.1 L64.5 524.7 L64.6 525.2 M65.2 526.9 L65.2 526.9 L65.4 527.5 L65.6 527.9 L65.6 528.0 M66.3 529.7 L66.3 529.7 L66.8 530.8 L67.3 531.7 L67.9 532.5 L68.4 533.2 L68.9 533.9 L69.5 534.4 L70.0 534.9 L70.2 535.0 M71.6 535.9 L71.8 536.0 L71.9 536.1 L72.1 536.2 L72.3 536.3 L72.5 536.4 L72.5 536.4 M74.1 536.9 L74.3 537.0 L74.8 537.0 L75.3 537.1 L75.8 537.1 L76.4 537.2 L76.9 537.2 L77.4 537.3 L78.0 537.3" fill="none" stroke="#ff0000" stroke-width="2.3" stroke-linejoin="round"/>
<path clip-path="url(#c380)" d="M78.2 537.3 L78.3 537.3 L79.4 537.4 L80.5 537.4 L81.5 537.5 L82.6 537.5 L83.6 537.5 L84.7 537.5 L84.8 537.5 M88.6 537.5 L88.6 537.5 L89.7 537.5 L90.7 537.5 L91.8 537.5 L92.9 537.5 L93.9 537.5 L95.0 537.5 L95.2 537.5 M96.8 537.5 L96.8 537.5 L96.9 537.5 L97.1 537.5 L97.3 537.5 L97.5 537.5 L97.6 537.5 M99.0 537.5 L99.1 537.5 L100.1 537.5 L101.2 537.5 L102.3 537.5 L103.3 537.5 L104.4 537.5 L105.5 537.5 L105.6 537.5 M109.4 537.5 L109.4 537.5 L109.9 537.5 L110.4 537.5 L110.9 537.5 L111.5 537.5 L112.0 537.5 L112.5 537.5" fill="none" stroke="#ff0000" stroke-width="2.3" stroke-linejoin="round"/>
<path clip-path="url(#c380)" d="M51.6 363.6 L51.7 362.9 L51.7 362.2 L51.8 361.5 L51.8 360.8 L51.9 360.1 L51.9 359.4 L52.0 358.8 L52.0 358.1 L52.1 357.5 L52.1 356.8 L52.2 356.6 M52.3 354.7 L52.3 354.4 L52.4 353.8 L52.4 353.6 M52.6 351.7 L52.6 351.5 L52.7 350.4 L52.8 349.4 L52.9 348.4 L53.0 347.5 L53.1 346.5 L53.3 345.6 L53.4 344.7 M53.6 342.8 L53.6 342.5 L53.7 342.1 L53.7 341.7 L53.7 341.7 M54.0 339.8 L54.1 339.7 L54.5 338.1 L54.9 337.0 L55.3 336.5 L55.8 336.9 L56.2 338.0 L56.6 339.3 M57.0 341.1 L57.0 341.1 L57.1 341.4 L57.1 341.6 L57.2 341.9 L57.2 342.2 M57.6 344.1 L57.6 344.1 L57.7 344.8 L57.8 345.6 L57.9 346.6 L58.0 347.6 L58.1 348.7 L58.2 349.8 L58.3 351.0 M58.5 352.9 L58.5 353.0 L58.5 353.7 L58.6 354.1 M58.7 355.9 L58.7 356.4 L58.8 357.1 L58.8 357.7 L58.9 358.4 L59.0 359.1 L59.0 359.7 L59.1 360.4 L59.1 361.0 L59.2 361.6 L59.2 362.2 L59.3 362.8 L59.3 362.9 M59.5 364.8 L59.5 365.1 L59.5 365.7 L59.6 366.0 M59.7 367.8 L59.7 367.9 L59.9 369.0 L60.0 370.1 L60.1 371.2 L60.2 372.3 L60.3 373.4 L60.4 374.5 L60.4 374.8 M60.6 376.7 L60.7 377.1 L60.7 377.7 L60.7 377.8 M60.9 379.7 L60.9 379.8 L61.0 380.9 L61.1 382.0 L61.2 383.1 L61.3 384.2 L61.5 385.2 L61.6 386.3 L61.6 386.7 M61.8 388.6 L61.8 389.0 L61.9 389.6 L61.9 389.7 M62.1 391.6 L62.1 391.7 L62.1 392.2 L62.2 392.8 L62.4 394.5 L62.6 396.3 L62.7 398.0 L62.8 398.6 M63.0 400.5 L63.1 401.5 L63.1 401.6 M63.3 403.5 L63.4 405.0 L63.6 406.7 L63.8 408.3 L64.0 410.0 L64.0 410.5 M64.2 412.3 L64.3 413.3 L64.3 413.5 M64.6 415.4 L64.7 416.5 L64.9 418.0 L65.0 419.5 L65.2 421.0 L65.4 422.3 M65.6 424.2 L65.7 425.3 M66.0 427.2 L66.1 428.3 L66.3 429.8 L66.5 431.3 L66.6 432.8 L66.8 434.2 M67.0 436.1 L67.0 436.1 L67.1 437.2 M67.3 439.1 L67.3 439.4 L67.5 441.2 L67.7 442.9 L67.9 444.6 L68.0 446.0 M68.2 447.9 L68.4 449.1 M68.6 450.9 L68.8 452.3 L68.9 453.7 L69.1 455.1 L69.3 456.5 L69.5 457.8 L69.5 457.9 M69.7 459.8 L69.8 460.5 L69.9 460.9 M70.1 462.8 L70.2 463.1 L70.4 464.4 L70.5 465.8 L70.7 467.1 L70.9 468.4 L71.1 469.7 M71.3 471.6 L71.4 472.4 L71.5 472.7 M71.7 474.6 L71.8 474.9 L71.9 476.2 L72.1 477.4 L72.3 478.5 L72.5 479.6 L72.7 480.7 L72.8 481.5 M73.1 483.4 L73.2 483.7 L73.3 484.5 M73.7 486.3 L73.7 486.7 L73.9 487.7 L74.1 488.6 L74.3 489.5 L74.4 490.4 L74.6 491.3 L74.8 492.2 L75.0 493.0 L75.0 493.2 M75.4 495.0 L75.5 495.5 L75.6 496.1 M76.1 498.0 L76.2 498.5 L76.4 499.3 L76.6 499.9 L76.7 500.6 L76.9 501.3 L77.1 501.9 L77.3 502.6 L77.4 503.2 L77.6 503.9 L77.8 504.5 L77.9 504.7 M78.4 506.5 L78.5 506.8 L78.7 507.4 L78.7 507.6 M79.3 509.3 L79.4 509.6 L79.7 510.6 L80.1 511.6 L80.5 512.5 L80.8 513.5 L81.2 514.4 L81.5 515.2 L81.7 515.8 M82.5 517.5 L82.6 517.7 L82.8 518.1 L82.9 518.5 M83.7 520.2 L83.8 520.4 L84.4 521.5 L84.9 522.5 L85.4 523.4 L86.0 524.2 L86.5 525.0 L87.0 525.7 L87.2 525.9 M88.3 527.3 L88.4 527.4 L88.6 527.6 L88.8 527.8 L89.0 528.0 L89.0 528.1 M90.3 529.4 L90.4 529.5 L91.1 530.1 L91.8 530.7 L92.5 531.2 L93.2 531.7 L93.9 532.1 L94.6 532.4 L95.3 532.8 L95.5 532.9 M97.0 533.6 L97.1 533.6 L97.3 533.7 L97.5 533.7 L97.7 533.8 L97.8 533.9 L98.0 533.9 M99.6 534.5 L99.6 534.5 L100.5 534.7 L101.4 535.0 L102.3 535.2 L103.1 535.4 L104.0 535.6 L104.9 535.8 L105.5 535.9 M107.2 536.2 L107.2 536.2 L107.4 536.2 L107.6 536.3 L107.8 536.3 L107.9 536.3 L108.1 536.4 L108.2 536.4 M109.8 536.6 L109.9 536.6" fill="none" stroke="#0000ff" stroke-width="2.3" stroke-linejoin="round"/>
<path clip-path="url(#c380)" d="M110.1 536.6 L110.2 536.6 L111.1 536.7 L112.0 536.8 L112.9 536.8 L113.8 536.9 L114.7 537.0 L116.6 537.1 M120.4 537.4 L121.3 537.4 L122.3 537.4 L123.3 537.5 L124.3 537.5 L125.3 537.5 L126.3 537.5 L127.0 537.5 M128.7 537.5 L129.2 537.5 M130.8 537.5 L131.4 537.5 L132.4 537.5 L133.4 537.5 L134.4 537.5 L135.4 537.5 L136.5 537.5 L137.4 537.5 M141.2 537.5 L141.5 537.5 L142.5 537.5 L143.5 537.5 L144.5 537.5 L145.6 537.5 L146.6 537.5 L147.6 537.5 L147.8 537.5 M149.5 537.5 L149.6 537.5 L150.0 537.5 M151.6 537.5 L152.6 537.5 L153.7 537.5 L154.7 537.5 L155.7 537.5 L156.7 537.5 L157.7 537.5 L158.2 537.5 M162.0 537.5 L162.8 537.5 L163.8 537.5 L164.8 537.5 L165.8 537.5 L166.8 537.5 L167.8 537.5 L168.6 537.5 M170.3 537.5 L170.8 537.5 M172.4 537.5 L172.9 537.5 L173.9 537.5 L174.9 537.5 L175.9 537.5 L176.9 537.5 L177.9 537.5 L179.0 537.5 L179.0 537.5 M182.8 537.5 L183.0 537.5 L184.0 537.5 L185.0 537.5 L186.0 537.5 L187.1 537.5 L188.1 537.5 L189.1 537.5 L189.4 537.5 M191.1 537.5 L191.6 537.5 M193.2 537.5 L194.1 537.5 L195.2 537.5 L196.2 537.5 L197.2 537.5 L198.2 537.5 L199.2 537.5 L199.8 537.5 M203.6 537.5 L204.3 537.5 L205.3 537.5 L206.3 537.5 L207.3 537.5 L208.3 537.5 L209.3 537.5 L210.2 537.5 M211.9 537.5 L212.4 537.5 L212.4 537.5 M214.0 537.5 L214.4 537.5 L215.4 537.5 L216.4 537.5 L217.4 537.5 L218.4 537.5 L219.4 537.5 L220.5 537.5 L220.6 537.5 M224.4 537.5 L224.5 537.5 L225.5 537.5 L226.5 537.5 L227.5 537.5 L228.6 537.5 L229.6 537.5 L230.6 537.5 L231.0 537.5 M232.7 537.5 L233.2 537.5 M234.8 537.5 L235.6 537.5 L236.6 537.5 L237.7 537.5 L238.7 537.5 L239.7 537.5 L240.7 537.5 L241.4 537.5 M245.2 537.5 L245.8 537.5 L246.8 537.5 L247.8 537.5 L248.8 537.5 L249.8 537.5 L250.8 537.5 L251.8 537.5 L251.8 537.5 M253.5 537.5 L253.9 537.5 L254.0 537.5 M255.6 537.5 L255.9 537.5 L256.9 537.5 L257.9 537.5 L258.9 537.5 L259.9 537.5 L260.9 537.5 L261.9 537.5 L262.2 537.5 M266.0 537.5 L267.0 537.5 L268.0 537.5 L269.0 537.5 L270.0 537.5 L271.1 537.5 L272.1 537.5 L272.6 537.5 M274.3 537.5 L274.8 537.5 M276.4 537.5 L277.1 537.5 L278.1 537.5 L279.2 537.5 L280.2 537.5 L281.2 537.5 L282.2 537.5 L283.0 537.5 M286.8 537.5 L287.3 537.5 L288.3 537.5 L289.3 537.5 L290.3 537.5 L291.3 537.5 L292.3 537.5 L293.3 537.5 L293.4 537.5 M295.1 537.5 L295.3 537.5 L295.6 537.5 M297.2 537.5 L297.4 537.5 L298.4 537.5 L299.4 537.5 L300.4 537.5 L301.4 537.5 L302.4 537.5 L303.4 537.5 L303.8 537.5 M307.6 537.5 L308.5 537.5 L309.5 537.5 L310.5 537.5 L311.5 537.5 L312.6 537.5 L313.6 537.5 L314.2 537.5 M315.9 537.5 L316.4 537.5" fill="none" stroke="#0000ff" stroke-width="2.3" stroke-linejoin="round"/>
<text x="52.10" y="548.90" text-anchor="middle" style="font-family:'Liberation Sans', sans-serif;font-weight:bold;font-style:italic;font-size:9.6px;stroke:#000;stroke-width:0.25px">0</text>
<text x="105.10" y="548.90" text-anchor="middle" style="font-family:'Liberation Sans', sans-serif;font-weight:bold;font-style:italic;font-size:9.6px;stroke:#000;stroke-width:0.25px">10</text>
<text x="158.10" y="548.90" text-anchor="middle" style="font-family:'Liberation Sans', sans-serif;font-weight:bold;font-style:italic;font-size:9.6px;stroke:#000;stroke-width:0.25px">20</text>
<text x="211.10" y="548.90" text-anchor="middle" style="font-family:'Liberation Sans', sans-serif;font-weight:bold;font-style:italic;font-size:9.6px;stroke:#000;stroke-width:0.25px">30</text>
<text x="264.10" y="548.90" text-anchor="middle" style="font-family:'Liberation Sans', sans-serif;font-weight:bold;font-style:italic;font-size:9.6px;stroke:#000;stroke-width:0.25px">40</text>
<text x="317.10" y="548.90" text-anchor="middle" style="font-family:'Liberation Sans', sans-serif;font-weight:bold;font-style:italic;font-size:9.6px;stroke:#000;stroke-width:0.25px">50</text>
<text x="49.30" y="541.01" text-anchor="end" style="font-family:'Liberation Sans', sans-serif;font-weight:bold;font-style:italic;font-size:9.6px;stroke:#000;stroke-width:0.25px">0</text>
<text x="49.30" y="506.22" text-anchor="end" style="font-family:'Liberation Sans', sans-serif;font-weight:bold;font-style:italic;font-size:9.6px;stroke:#000;stroke-width:0.25px">2</text>
<text x="49.30" y="471.44" text-anchor="end" style="font-family:'Liberation Sans', sans-serif;font-weight:bold;font-style:italic;font-size:9.6px;stroke:#000;stroke-width:0.25px">4</text>
<text x="49.30" y="436.66" text-anchor="end" style="font-family:'Liberation Sans', sans-serif;font-weight:bold;font-style:italic;font-size:9.6px;stroke:#000;stroke-width:0.25px">6</text>
<text x="49.30" y="401.87" text-anchor="end" style="font-family:'Liberation Sans', sans-serif;font-weight:bold;font-style:italic;font-size:9.6px;stroke:#000;stroke-width:0.25px">8</text>
<text x="49.30" y="367.09" text-anchor="end" style="font-family:'Liberation Sans', sans-serif;font-weight:bold;font-style:italic;font-size:9.6px;stroke:#000;stroke-width:0.25px">10</text>
<text x="49.30" y="332.31" text-anchor="end" style="font-family:'Liberation Sans', sans-serif;font-weight:bold;font-style:italic;font-size:9.6px;stroke:#000;stroke-width:0.25px">12</text>
<text x="184.10" y="561.2" text-anchor="middle" style="font-family:'Liberation Sans', sans-serif;font-weight:bold;font-style:italic;font-size:11.3px;stroke:#000;stroke-width:0.3px">Time (Months)</text>
<text transform="translate(31.5 433.15) rotate(-90)" text-anchor="middle" style="font-family:'Liberation Sans', sans-serif;font-weight:bold;font-style:italic;font-size:11.3px;stroke:#000;stroke-width:0.3px">Chronic Population (B(t)</text>
<rect x="207.8" y="332.9" width="104.75" height="26.700000000000045" fill="#fff" stroke="#505050" stroke-width="0.76"/>
<path d="M212.53 340.32 H237.46" stroke="#ff0000" stroke-width="1.95" stroke-dasharray="0.65 2.97 5.28 2.87" fill="none"/>
<text x="239.78" y="343.89" style="font-family:'Liberation Sans', sans-serif;font-weight:bold;font-style:italic;font-size:9.8px;stroke:#000;stroke-width:0.25px">with control</text>
<path d="M212.53 352.55 H237.46" stroke="#0000ff" stroke-width="1.95" stroke-dasharray="0.65 2.97 5.28 2.87" fill="none"/>
<text x="239.78" y="356.13" style="font-family:'Liberation Sans', sans-serif;font-weight:bold;font-style:italic;font-size:9.8px;stroke:#000;stroke-width:0.25px">without control</text>
<clipPath id="c729"><rect x="400.35" y="328.3" width="265.75" height="209.89999999999998"/></clipPath>
<rect x="400.6" y="328.8" width="265.0" height="208.7" fill="#fff" stroke="none"/>
<path d="M400.60 537.5 v-2.8 M400.60 328.8 v2.8 M453.60 537.5 v-2.8 M453.60 328.8 v2.8 M506.60 537.5 v-2.8 M506.60 328.8 v2.8 M559.60 537.5 v-2.8 M559.60 328.8 v2.8 M612.60 537.5 v-2.8 M612.60 328.8 v2.8 M665.60 537.5 v-2.8 M665.60 328.8 v2.8 M400.6 537.50 h2.8 M665.6 537.50 h-2.8 M400.6 507.69 h2.8 M665.6 507.69 h-2.8 M400.6 477.87 h2.8 M665.6 477.87 h-2.8 M400.6 448.06 h2.8 M665.6 448.06 h-2.8 M400.6 418.24 h2.8 M665.6 418.24 h-2.8 M400.6 388.43 h2.8 M665.6 388.43 h-2.8 M400.6 358.61 h2.8 M665.6 358.61 h-2.8 M400.6 328.80 h2.8 M665.6 328.80 h-2.8" stroke="#484848" stroke-width="0.76" fill="none"/>
<rect x="400.6" y="328.8" width="265.0" height="208.7" fill="none" stroke="#484848" stroke-width="0.95"/>
<path clip-path="url(#c729)" d="M400.6 537.5 L400.7 534.5 L400.8 531.5 L400.8 530.5 M400.9 528.6 L400.9 528.5 L400.9 527.4 M401.0 525.5 L401.0 525.4 L401.0 522.4 L401.1 519.4 L401.2 518.5 M401.2 516.6 L401.2 516.5 L401.2 515.5 M401.3 513.6 L401.3 513.5 L401.4 510.5 L401.5 507.6 L401.5 506.6 M401.6 504.7 L401.6 503.5 M401.7 501.6 L401.8 499.0 L401.8 496.1 L401.9 494.6 M401.9 492.7 L402.0 491.6 M402.0 489.7 L402.1 487.8 L402.2 485.1 L402.3 482.7 M402.3 480.8 L402.4 479.7 L402.4 479.6 M402.4 477.7 L402.5 477.1 L402.5 474.5 L402.6 471.9 L402.7 470.7 M402.7 468.8 L402.8 467.7 M402.9 465.8 L402.9 464.5 L403.0 462.1 L403.1 459.7 L403.1 458.8 M403.2 456.9 L403.2 455.7 M403.3 453.8 L403.3 452.8 L403.4 450.5 L403.5 448.3 L403.6 446.8 M403.7 444.9 L403.7 444.1 L403.7 443.8 M403.8 441.9 L403.9 439.9 L404.0 437.9 L404.1 435.9 L404.1 434.9 M404.2 433.0 L404.2 432.1 L404.2 431.8 M404.3 429.9 L404.4 428.4 L404.5 426.6 L404.6 424.8 L404.7 423.1 L404.7 422.9 M404.8 421.1 L404.8 419.9 M404.9 418.0 L405.0 416.5 L405.1 414.9 L405.2 413.4 L405.3 411.9 L405.4 411.0 M405.5 409.1 L405.5 409.0 L405.5 408.0 M405.7 406.1 L405.7 404.9 L405.8 403.5 L405.9 402.2 L406.0 401.0 L406.1 399.7 L406.1 399.1 M406.3 397.2 L406.4 396.2 L406.4 396.0 M406.5 394.2 L406.5 394.0 L406.6 392.9 L406.7 391.8 L406.8 390.8 L406.9 389.8 L407.0 388.8 L407.1 387.8 L407.1 387.2 M407.3 385.3 L407.3 385.1 L407.4 384.2 L407.4 384.2 M407.6 382.3 L407.7 381.7 L407.8 380.9 L407.9 380.2 L408.0 379.4 L408.0 378.7 L408.1 378.0 L408.2 377.3 L408.3 376.6 L408.4 375.9 L408.5 375.3 M408.7 373.4 L408.8 373.4 L408.8 372.8 L408.9 372.3 M409.2 370.5 L409.3 370.1 L409.5 369.1 L409.6 368.2 L409.8 367.3 L410.0 366.4 L410.2 365.6 L410.3 364.9 L410.5 364.2 L410.7 363.6 M411.2 361.8 L411.2 361.7 L411.3 361.4 L411.4 361.1 L411.5 360.9 L411.5 360.8 M412.2 359.0 L412.3 358.9 L412.9 357.6 L413.5 356.6 L414.2 355.9 L414.8 355.2 L415.4 354.8 L416.0 354.4 L416.4 354.2 M418.1 353.8 L418.1 353.8 L418.2 353.8 L418.4 353.8 L418.6 353.8 L418.8 353.8 L418.9 353.8 L419.1 353.8 M420.7 353.9 L420.7 353.9 L421.7 354.1 L422.7 354.3 L423.6 354.5 L424.6 354.7 L425.6 355.0 L426.6 355.2 L426.7 355.3 M428.3 355.7 L428.7 355.8 L429.3 356.0 M430.9 356.5 L431.1 356.5 L431.9 356.8 L432.7 357.0 L433.5 357.2 L434.3 357.5 L435.1 357.7 L435.9 358.0 L436.7 358.2 L436.8 358.2 M438.4 358.7 L439.1 358.9 L439.3 359.0 M440.9 359.5 L441.5 359.6 L442.3 359.9 L443.1 360.1 L443.9 360.3 L444.6 360.6 L445.4 360.8 L446.2 361.0 L446.8 361.2 M448.4 361.7 L448.6 361.7 L449.4 362.0 M451.0 362.4 L451.0 362.4 L451.8 362.7 L452.6 362.9 L453.4 363.2 L454.2 363.4 L455.0 363.6 L455.8 363.9 L456.6 364.1 L456.9 364.2 M458.5 364.6 L459.0 364.8 L459.5 364.9 M461.1 365.4 L461.4 365.5 L462.2 365.7 L463.0 365.9 L463.8 366.2 L464.6 366.4 L465.4 366.6 L466.2 366.9 L467.0 367.1 L467.0 367.1 M468.6 367.6 L469.4 367.8 L469.6 367.8 M471.2 368.3 L471.8 368.5 L472.6 368.7 L473.4 368.9 L474.2 369.1 L475.0 369.4 L475.8 369.6 L476.6 369.8 L477.1 370.0 M478.7 370.4 L478.9 370.5 L479.7 370.7 M481.3 371.2 L481.3 371.2 L482.1 371.4 L482.9 371.6 L483.7 371.9 L484.5 372.1 L485.3 372.3 L486.1 372.5 L486.9 372.8 L487.2 372.8 M488.8 373.3 L489.3 373.4 L489.8 373.6 M491.4 374.0 L491.7 374.1 L492.5 374.3 L493.3 374.5 L494.1 374.8 L494.9 375.0 L495.7 375.2 L496.5 375.4 L497.3 375.6 L497.3 375.6 M498.9 376.1 L499.7 376.3 L499.9 376.4 M501.5 376.8 L502.1 377.0 L502.9 377.2 L503.7 377.4 L504.5 377.6 L505.3 377.8 L506.1 378.1 L506.9 378.3 L507.4 378.4 M509.0 378.9 L509.3 378.9 L510.0 379.1 M511.6 379.6 L511.7 379.6 L512.4 379.8 L513.2 380.0 L514.0 380.2 L514.8 380.5 L515.6 380.7 L516.4 380.9 L517.2 381.1 L517.5 381.2 M519.1 381.6 L519.6 381.8 L520.1 381.9 M521.7 382.3 L522.0 382.4 L522.8 382.6 L523.6 382.8 L524.4 383.0 L525.2 383.3 L526.0 383.5 L526.8 383.7 L527.6 383.9 L527.7 383.9 M529.3 384.3 L530.0 384.5 L530.2 384.6 M531.8 385.0 L532.4 385.2 L533.2 385.4 L534.0 385.6 L534.8 385.8 L535.6 386.0 L536.4 386.2 L537.2 386.4 L537.8 386.6 M539.4 387.0 L539.6 387.1 L540.4 387.3 L540.4 387.3 M542.0 387.7 L542.8 387.9 L543.6 388.1 L544.4 388.3 L545.2 388.5 L546.0 388.7 L546.7 388.9 L547.5 389.1 L547.9 389.2 M549.5 389.7 L549.9 389.8 L550.5 389.9 M552.1 390.3 L552.3 390.4 L553.1 390.6 L553.9 390.8 L554.7 391.0 L555.5 391.2 L556.3 391.4 L557.1 391.6 L557.9 391.8 L558.1 391.9 M559.7 392.3 L560.3 392.4 L560.7 392.5 M562.3 392.9 L562.7 393.1 L563.5 393.3 L564.3 393.5 L565.1 393.7 L565.9 393.9 L566.7 394.1 L567.5 394.3 L568.2 394.5 M569.8 394.9 L569.9 394.9 L570.7 395.1 L570.8 395.1 M572.4 395.5 L573.1 395.7 L573.9 395.9 L574.7 396.1 L575.5 396.3 L576.3 396.5 L577.1 396.7 L577.9 396.9 L578.4 397.0 M580.0 397.4 L580.3 397.5 L581.0 397.7 M582.6 398.1 L582.6 398.1 L583.4 398.3 L584.2 398.5 L585.0 398.7 L585.8 398.9 L586.6 399.1 L587.4 399.3 L588.2 399.5 L588.6 399.5 M590.2 399.9 L590.6 400.1 L591.1 400.2 M592.8 400.6 L593.0 400.6 L593.8 400.8 L594.6 401.0 L595.4 401.2 L596.2 401.4 L597.0 401.6 L597.8 401.8 L598.6 402.0 L598.7 402.0 M600.3 402.4 L601.0 402.6 L601.3 402.7 M602.9 403.1 L603.4 403.2 L604.2 403.4 L605.0 403.6 L605.8 403.8 L606.6 404.0 L607.4 404.1 L608.2 404.3 L608.9 404.5 M610.5 404.9 L610.6 404.9 L611.4 405.1 L611.5 405.1 M613.1 405.5 L613.8 405.7 L614.5 405.9 L615.3 406.1 L616.1 406.3 L616.9 406.4 L617.7 406.6 L618.5 406.8 L619.1 407.0 M620.7 407.3 L620.9 407.4 L621.7 407.6 M623.3 407.9 L623.3 408.0 L624.1 408.1 L624.9 408.3 L625.7 408.5 L626.5 408.7 L627.3 408.9 L628.1 409.1 L628.9 409.3 L629.3 409.4 M630.9 409.7 L631.3 409.8 L631.9 410.0 M633.5 410.3 L633.7 410.4 L634.5 410.6 L635.3 410.8 L636.1 411.0 L636.9 411.1 L637.7 411.3 L638.5 411.5 L639.3 411.7 L639.5 411.7 M641.1 412.1 L641.7 412.2 L642.1 412.3 M643.7 412.7 L644.1 412.8 L644.9 413.0 L645.7 413.2 L646.5 413.4 L647.3 413.5 L648.1 413.7 L648.8 413.9 L649.6 414.1 L649.7 414.1 M651.3 414.5 L652.0 414.6 L652.3 414.7 M653.9 415.1 L654.4 415.2 L655.2 415.4 L656.0 415.5 L656.8 415.7 L657.6 415.9 L658.4 416.1 L659.2 416.3 L659.9 416.4 M661.5 416.8 L661.6 416.8 L662.4 417.0 L662.5 417.0 M664.1 417.4 L664.8 417.5 L665.6 417.7" fill="none" stroke="#ff0000" stroke-width="2.3" stroke-linejoin="round"/>
<path clip-path="url(#c729)" d="M400.6 537.5 L400.7 537.4 L401.1 536.7 L401.6 535.9 L402.0 534.9 L402.5 533.9 L402.9 532.8 L403.3 531.7 L403.5 531.3 M404.1 529.6 L404.1 529.4 L404.2 529.2 L404.3 528.9 L404.4 528.7 L404.5 528.5 M405.1 526.7 L405.1 526.6 L405.5 525.6 L405.8 524.5 L406.2 523.5 L406.5 522.4 L406.9 521.4 L407.2 520.3 L407.3 520.2 M407.9 518.4 L408.0 518.3 L408.0 518.0 L408.1 517.8 L408.2 517.5 L408.3 517.4 M408.9 515.6 L408.9 515.5 L409.3 514.5 L409.6 513.6 L410.0 512.7 L410.3 511.7 L410.7 510.8 L411.1 510.0 L411.4 509.2 M412.1 507.5 L412.1 507.4 L412.2 507.2 L412.3 507.0 L412.4 506.8 L412.5 506.7 L412.6 506.5 M413.3 504.8 L413.4 504.8 L413.9 503.7 L414.4 502.6 L415.0 501.7 L415.5 500.7 L416.0 499.8 L416.6 499.0 L416.6 498.9 M417.6 497.4 L417.6 497.4 L417.7 497.3 L417.8 497.2 L417.9 497.0 L418.0 496.9 L418.1 496.8 L418.1 496.7 L418.2 496.6 L418.3 496.5 M419.4 495.1 L419.4 495.1 L420.2 494.2 L421.0 493.4 L421.8 492.7 L422.6 492.0 L423.4 491.4 L424.2 490.8 M425.6 489.9 L425.7 489.9 L425.8 489.9 L425.9 489.8 L425.9 489.8 L426.0 489.7 L426.1 489.7 L426.2 489.6 L426.3 489.6 L426.4 489.5 L426.5 489.5 L426.5 489.5 M428.1 488.8 L428.7 488.6 L429.5 488.3 L430.3 488.1 L431.1 487.9 L431.9 487.7 L432.7 487.6 L433.5 487.4 L434.0 487.4 M435.7 487.2 L435.9 487.2 L436.7 487.1 L436.7 487.1 M438.3 487.1 L439.1 487.1 L439.9 487.1 L440.7 487.1 L441.5 487.1 L442.3 487.1 L443.1 487.2 L443.9 487.2 L444.4 487.3 M446.1 487.4 L446.2 487.4 L447.0 487.5 L447.1 487.5 M448.7 487.6 L449.4 487.7 L450.2 487.8 L451.0 487.8 L451.8 487.9 L452.6 488.0 L453.4 488.1 L454.2 488.2 L454.8 488.3 M456.4 488.5 L456.6 488.5 L457.4 488.6 L457.4 488.6 M459.1 488.8 L459.8 488.9 L460.6 489.0 L461.4 489.1 L462.2 489.2 L463.0 489.3 L463.8 489.4 L464.6 489.5 L465.1 489.6 M466.8 489.8 L467.0 489.9 L467.8 490.0 M469.4 490.2 L470.2 490.3 L471.0 490.4 L471.8 490.5 L472.6 490.6 L473.4 490.7 L474.2 490.8 L475.0 491.0 L475.5 491.0 M477.1 491.3 L477.4 491.3 L478.1 491.4 M479.7 491.6 L479.7 491.6 L480.5 491.7 L481.3 491.8 L482.1 491.9 L482.9 492.0 L483.7 492.2 L484.5 492.3 L485.3 492.4 L485.8 492.4 M487.4 492.7 L487.7 492.7 L488.4 492.8 M490.1 493.0 L490.1 493.0 L490.9 493.1 L491.7 493.2 L492.5 493.3 L493.3 493.5 L494.1 493.6 L494.9 493.7 L495.7 493.8 L496.1 493.8 M497.8 494.1 L498.1 494.1 L498.7 494.2 M500.4 494.4 L500.5 494.4 L501.3 494.5 L502.1 494.6 L502.9 494.7 L503.7 494.8 L504.5 495.0 L505.3 495.1 L506.1 495.2 L506.4 495.2 M508.1 495.4 L508.5 495.5 L509.1 495.6 M510.7 495.8 L510.9 495.8 L511.7 495.9 L512.4 496.0 L513.2 496.1 L514.0 496.2 L514.8 496.3 L515.6 496.4 L516.4 496.5 L516.8 496.6 M518.4 496.8 L518.8 496.8 L519.4 496.9 M521.0 497.1 L521.2 497.2 L522.0 497.3 L522.8 497.4 L523.6 497.5 L524.4 497.6 L525.2 497.7 L526.0 497.8 L526.8 497.9 L527.1 497.9 M528.7 498.1 L529.2 498.2 L529.7 498.3 M531.4 498.5 L531.6 498.5 L532.4 498.6 L533.2 498.7 L534.0 498.8 L534.8 498.9 L535.6 499.0 L536.4 499.1 L537.2 499.2 L537.4 499.3 M539.1 499.5 L539.6 499.5 L540.1 499.6 M541.7 499.8 L542.0 499.8 L542.8 499.9 L543.6 500.0 L544.4 500.1 L545.2 500.2 L546.0 500.3 L546.7 500.4 L547.5 500.5 L547.8 500.6 M549.4 500.8 L549.9 500.8 L550.4 500.9 M552.1 501.1 L552.3 501.1 L553.1 501.2 L553.9 501.3 L554.7 501.4 L555.5 501.5 L556.3 501.6 L557.1 501.7 L557.9 501.8 L558.1 501.9 M559.8 502.1 L560.3 502.1 L560.8 502.2 M562.4 502.4 L562.7 502.4 L563.5 502.5 L564.3 502.6 L565.1 502.7 L565.9 502.8 L566.7 502.9 L567.5 503.0 L568.3 503.1 L568.5 503.1 M570.1 503.3 L570.7 503.4 L571.1 503.5 M572.7 503.7 L573.1 503.7 L573.9 503.8 L574.7 503.9 L575.5 504.0 L576.3 504.1 L577.1 504.2 L577.9 504.3 L578.7 504.4 L578.8 504.4 M580.4 504.6 L581.0 504.7 L581.4 504.7 M583.1 504.9 L583.4 505.0 L584.2 505.0 L585.0 505.1 L585.8 505.2 L586.6 505.3 L587.4 505.4 L588.2 505.5 L589.0 505.6 L589.1 505.6 M590.8 505.8 L591.4 505.9 L591.8 505.9 M593.4 506.1 L593.8 506.2 L594.6 506.3 L595.4 506.4 L596.2 506.5 L597.0 506.6 L597.8 506.7 L598.6 506.8 L599.4 506.8 L599.5 506.9 M601.1 507.1 L601.8 507.1 L602.1 507.2 M603.8 507.4 L604.2 507.4 L605.0 507.5 L605.8 507.6 L606.6 507.7 L607.4 507.8 L608.2 507.9 L609.0 508.0 L609.8 508.1 L609.8 508.1 M611.5 508.3 L612.2 508.3 L612.5 508.4 M614.1 508.6 L614.5 508.6 L615.3 508.7 L616.1 508.8 L616.9 508.9 L617.7 509.0 L618.5 509.1 L619.3 509.2 L620.1 509.3 L620.2 509.3 M621.8 509.5 L622.5 509.5 L622.8 509.6 M624.5 509.8 L624.9 509.8 L625.7 509.9 L626.5 510.0 L627.3 510.1 L628.1 510.2 L628.9 510.3 L629.7 510.3 L630.5 510.4 L630.5 510.4 M632.2 510.6 L632.9 510.7 L633.2 510.7 M634.8 510.9 L635.3 511.0 L636.1 511.1 L636.9 511.2 L637.7 511.2 L638.5 511.3 L639.3 511.4 L640.1 511.5 L640.9 511.6 L640.9 511.6 M642.5 511.8 L643.3 511.9 L643.5 511.9 M645.2 512.1 L645.7 512.1 L646.5 512.2 L647.3 512.3 L648.1 512.4 L648.8 512.5 L649.6 512.6 L650.4 512.7 L651.2 512.7 M652.9 512.9 L653.6 513.0 L653.9 513.0 M655.5 513.2 L656.0 513.3 L656.8 513.4 L657.6 513.4 L658.4 513.5 L659.2 513.6 L660.0 513.7 L660.8 513.8 L661.6 513.9 M663.2 514.1 L664.0 514.1 L664.2 514.2" fill="none" stroke="#0000ff" stroke-width="2.3" stroke-linejoin="round"/>
<text x="401.10" y="548.90" text-anchor="middle" style="font-family:'Liberation Sans', sans-serif;font-weight:bold;font-style:italic;font-size:9.6px;stroke:#000;stroke-width:0.25px">0</text>
<text x="454.10" y="548.90" text-anchor="middle" style="font-family:'Liberation Sans', sans-serif;font-weight:bold;font-style:italic;font-size:9.6px;stroke:#000;stroke-width:0.25px">10</text>
<text x="507.10" y="548.90" text-anchor="middle" style="font-family:'Liberation Sans', sans-serif;font-weight:bold;font-style:italic;font-size:9.6px;stroke:#000;stroke-width:0.25px">20</text>
<text x="560.10" y="548.90" text-anchor="middle" style="font-family:'Liberation Sans', sans-serif;font-weight:bold;font-style:italic;font-size:9.6px;stroke:#000;stroke-width:0.25px">30</text>
<text x="613.10" y="548.90" text-anchor="middle" style="font-family:'Liberation Sans', sans-serif;font-weight:bold;font-style:italic;font-size:9.6px;stroke:#000;stroke-width:0.25px">40</text>
<text x="666.10" y="548.90" text-anchor="middle" style="font-family:'Liberation Sans', sans-serif;font-weight:bold;font-style:italic;font-size:9.6px;stroke:#000;stroke-width:0.25px">50</text>
<text x="398.30" y="541.01" text-anchor="end" style="font-family:'Liberation Sans', sans-serif;font-weight:bold;font-style:italic;font-size:9.6px;stroke:#000;stroke-width:0.25px">10</text>
<text x="398.30" y="511.19" text-anchor="end" style="font-family:'Liberation Sans', sans-serif;font-weight:bold;font-style:italic;font-size:9.6px;stroke:#000;stroke-width:0.25px">15</text>
<text x="398.30" y="481.38" text-anchor="end" style="font-family:'Liberation Sans', sans-serif;font-weight:bold;font-style:italic;font-size:9.6px;stroke:#000;stroke-width:0.25px">20</text>
<text x="398.30" y="451.56" text-anchor="end" style="font-family:'Liberation Sans', sans-serif;font-weight:bold;font-style:italic;font-size:9.6px;stroke:#000;stroke-width:0.25px">25</text>
<text x="398.30" y="421.75" text-anchor="end" style="font-family:'Liberation Sans', sans-serif;font-weight:bold;font-style:italic;font-size:9.6px;stroke:#000;stroke-width:0.25px">30</text>
<text x="398.30" y="391.93" text-anchor="end" style="font-family:'Liberation Sans', sans-serif;font-weight:bold;font-style:italic;font-size:9.6px;stroke:#000;stroke-width:0.25px">35</text>
<text x="398.30" y="362.12" text-anchor="end" style="font-family:'Liberation Sans', sans-serif;font-weight:bold;font-style:italic;font-size:9.6px;stroke:#000;stroke-width:0.25px">40</text>
<text x="398.30" y="332.31" text-anchor="end" style="font-family:'Liberation Sans', sans-serif;font-weight:bold;font-style:italic;font-size:9.6px;stroke:#000;stroke-width:0.25px">45</text>
<text x="533.10" y="561.2" text-anchor="middle" style="font-family:'Liberation Sans', sans-serif;font-weight:bold;font-style:italic;font-size:11.3px;stroke:#000;stroke-width:0.3px">Time (Months)</text>
<text transform="translate(380.5 433.15) rotate(-90)" text-anchor="middle" style="font-family:'Liberation Sans', sans-serif;font-weight:bold;font-style:italic;font-size:11.3px;stroke:#000;stroke-width:0.3px">Recovered Population (A(t)</text>
<rect x="557.0" y="332.9" width="104.89999999999998" height="26.700000000000045" fill="#fff" stroke="#505050" stroke-width="0.76"/>
<path d="M561.73 340.33 H586.71" stroke="#ff0000" stroke-width="1.95" stroke-dasharray="0.65 2.97 5.29 2.88" fill="none"/>
<text x="589.03" y="343.90" style="font-family:'Liberation Sans', sans-serif;font-weight:bold;font-style:italic;font-size:9.8px;stroke:#000;stroke-width:0.25px">with control</text>
<path d="M561.73 352.58 H586.71" stroke="#0000ff" stroke-width="1.95" stroke-dasharray="0.65 2.97 5.29 2.88" fill="none"/>
<text x="589.03" y="356.16" style="font-family:'Liberation Sans', sans-serif;font-weight:bold;font-style:italic;font-size:9.8px;stroke:#000;stroke-width:0.25px">without control</text>
<text transform="translate(77.50 282.2) scale(1.0449 1)" style="font-family:'Liberation Serif', serif;font-size:19.4px" fill="#111">(a)</text>
<text transform="translate(108.30 282.2) scale(1.0521 1)" style="font-family:'Liberation Serif', serif;font-size:19.4px" fill="#111">Susceptible</text>
<text transform="translate(202.80 282.2) scale(0.9485 1)" style="font-family:'Liberation Serif', serif;font-size:19.4px" fill="#111">–</text>
<text transform="translate(212.90 282.2) scale(1.1852 1)" style="font-family:'Liberation Serif', serif;font-size:19.4px" fill="#111"><tspan font-style="italic">S</tspan>(<tspan font-style="italic">t</tspan>)</text>
<text transform="translate(376.70 282.2) scale(1.0918 1)" style="font-family:'Liberation Serif', serif;font-size:19.4px" fill="#111">(b)</text>
<text transform="translate(409.40 282.2) scale(1.0600 1)" style="font-family:'Liberation Serif', serif;font-size:19.4px" fill="#111">Acute</text>
<text transform="translate(466.90 282.2) scale(1.0021 1)" style="font-family:'Liberation Serif', serif;font-size:19.4px" fill="#111">infected</text>
<text transform="translate(537.90 282.2) scale(1.0102 1)" style="font-family:'Liberation Serif', serif;font-size:19.4px" fill="#111">hepatitis</text>
<text transform="translate(617.30 282.2) scale(1.0587 1)" style="font-family:'Liberation Serif', serif;font-size:19.4px" fill="#111">B</text>
<text transform="translate(631.20 282.2) scale(0.9485 1)" style="font-family:'Liberation Serif', serif;font-size:19.4px" fill="#111">–</text>
<text transform="translate(640.80 282.2) scale(1.1272 1)" style="font-family:'Liberation Serif', serif;font-size:19.4px" fill="#111"><tspan font-style="italic">A</tspan>(<tspan font-style="italic">t</tspan>)</text>
<text transform="translate(0.30 590.2) scale(1.0310 1)" style="font-family:'Liberation Serif', serif;font-size:19.4px" fill="#111">(c)</text>
<text transform="translate(32.50 590.2) scale(1.0208 1)" style="font-family:'Liberation Serif', serif;font-size:19.4px" fill="#111">Chronically</text>
<text transform="translate(136.00 590.2) scale(1.0245 1)" style="font-family:'Liberation Serif', serif;font-size:19.4px" fill="#111">infected</text>
<text transform="translate(210.00 590.2) scale(1.0650 1)" style="font-family:'Liberation Serif', serif;font-size:19.4px" fill="#111">hepatitis</text>
<text transform="translate(289.00 590.2) scale(0.8887 1)" style="font-family:'Liberation Serif', serif;font-size:19.4px" fill="#111">B</text>
<text transform="translate(311.00 590.2) scale(0.9825 1)" style="font-family:'Liberation Serif', serif;font-size:19.4px" fill="#111">indi-</text>
<text transform="translate(0.30 613.7) scale(1.0207 1)" style="font-family:'Liberation Serif', serif;font-size:19.4px" fill="#111">viduals</text>
<text transform="translate(65.00 613.7) scale(1.0309 1)" style="font-family:'Liberation Serif', serif;font-size:19.4px" fill="#111">–</text>
<text transform="translate(84.00 613.7) scale(1.1107 1)" style="font-family:'Liberation Serif', serif;font-size:19.4px" fill="#111"><tspan font-style="italic">B</tspan>(<tspan font-style="italic">t</tspan>)</text>
<text transform="translate(387.00 590.2) scale(1.0388 1)" style="font-family:'Liberation Serif', serif;font-size:19.4px" fill="#111">(d)</text>
<text transform="translate(418.00 590.2) scale(1.0127 1)" style="font-family:'Liberation Serif', serif;font-size:19.4px" fill="#111">Recovered</text>
<text transform="translate(510.50 590.2) scale(1.0033 1)" style="font-family:'Liberation Serif', serif;font-size:19.4px" fill="#111">individuals</text>
<text transform="translate(604.00 590.2) scale(1.1856 1)" style="font-family:'Liberation Serif', serif;font-size:19.4px" fill="#111">–</text>
<text transform="translate(625.50 590.2) scale(1.1272 1)" style="font-family:'Liberation Serif', serif;font-size:19.4px" fill="#111"><tspan font-style="italic">R</tspan>(<tspan font-style="italic">t</tspan>)</text>
</svg></body></html>
